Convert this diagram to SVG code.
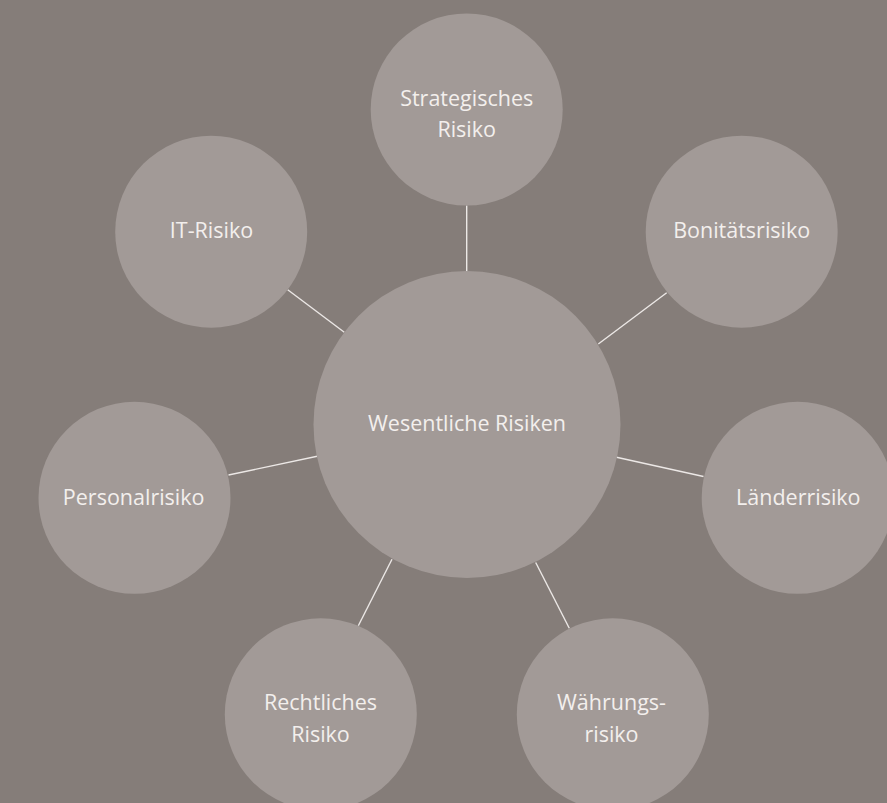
<svg xmlns="http://www.w3.org/2000/svg" width="887" height="803" viewBox="0 0 887 803">
  <style>
    .node { fill: #a29a97; }
    .link { stroke: #ece8e6; stroke-width: 1.4; fill: none; }
    .label { font-family: "Open Sans", "Liberation Sans", sans-serif; font-size: 21.5px; fill: #f3efed; text-anchor: middle; }
  </style>
  <rect width="887" height="803" fill="#857d79"/>

  <!-- spokes from the hub to each risk -->
  <g id="connectors">
    <line class="link" x1="466.7" y1="205.5" x2="466.7" y2="271"/>
    <line class="link" x1="287.7" y1="289.7" x2="344.3" y2="332.2"/>
    <line class="link" x1="666.7" y1="292.7" x2="598.3" y2="344"/>
    <line class="link" x1="228.5" y1="475" x2="317.2" y2="456.2"/>
    <line class="link" x1="703.5" y1="476.5" x2="616.5" y2="457.3"/>
    <line class="link" x1="358.3" y1="625.7" x2="392" y2="559.3"/>
    <line class="link" x1="569.3" y1="628.3" x2="535.7" y2="562.5"/>
  </g>

  <g id="hub">
    <circle class="node" cx="467" cy="424.5" r="153.5"/>
    <text class="label" x="467" y="430.5">Wesentliche Risiken</text>
  </g>
  <g id="strategisches-risiko">
    <circle class="node" cx="466.7" cy="109.5" r="96"/>
    <text class="label" x="466.7" y="106">Strategisches</text>
    <text class="label" x="466.7" y="137">Risiko</text>
  </g>
  <g id="it-risiko">
    <circle class="node" cx="211.2" cy="231.7" r="96"/>
    <text class="label" x="211.5" y="238">IT-Risiko</text>
  </g>
  <g id="bonitaetsrisiko">
    <circle class="node" cx="741.7" cy="231.7" r="96"/>
    <text class="label" x="741.7" y="238">Bonitätsrisiko</text>
  </g>
  <g id="personalrisiko">
    <circle class="node" cx="134.5" cy="497.8" r="96"/>
    <text class="label" x="133.7" y="505">Personalrisiko</text>
  </g>
  <g id="laenderrisiko">
    <circle class="node" cx="797.7" cy="497.8" r="96"/>
    <text class="label" x="798.3" y="505">Länderrisiko</text>
  </g>
  <g id="rechtliches-risiko">
    <circle class="node" cx="320.8" cy="714.3" r="96"/>
    <text class="label" x="320.5" y="710">Rechtliches</text>
    <text class="label" x="320.5" y="741.5">Risiko</text>
  </g>
  <g id="waehrungsrisiko">
    <circle class="node" cx="612.8" cy="714.3" r="96"/>
    <text class="label" x="611.5" y="710">Währungs-</text>
    <text class="label" x="611.5" y="741.5">risiko</text>
  </g>
</svg>
